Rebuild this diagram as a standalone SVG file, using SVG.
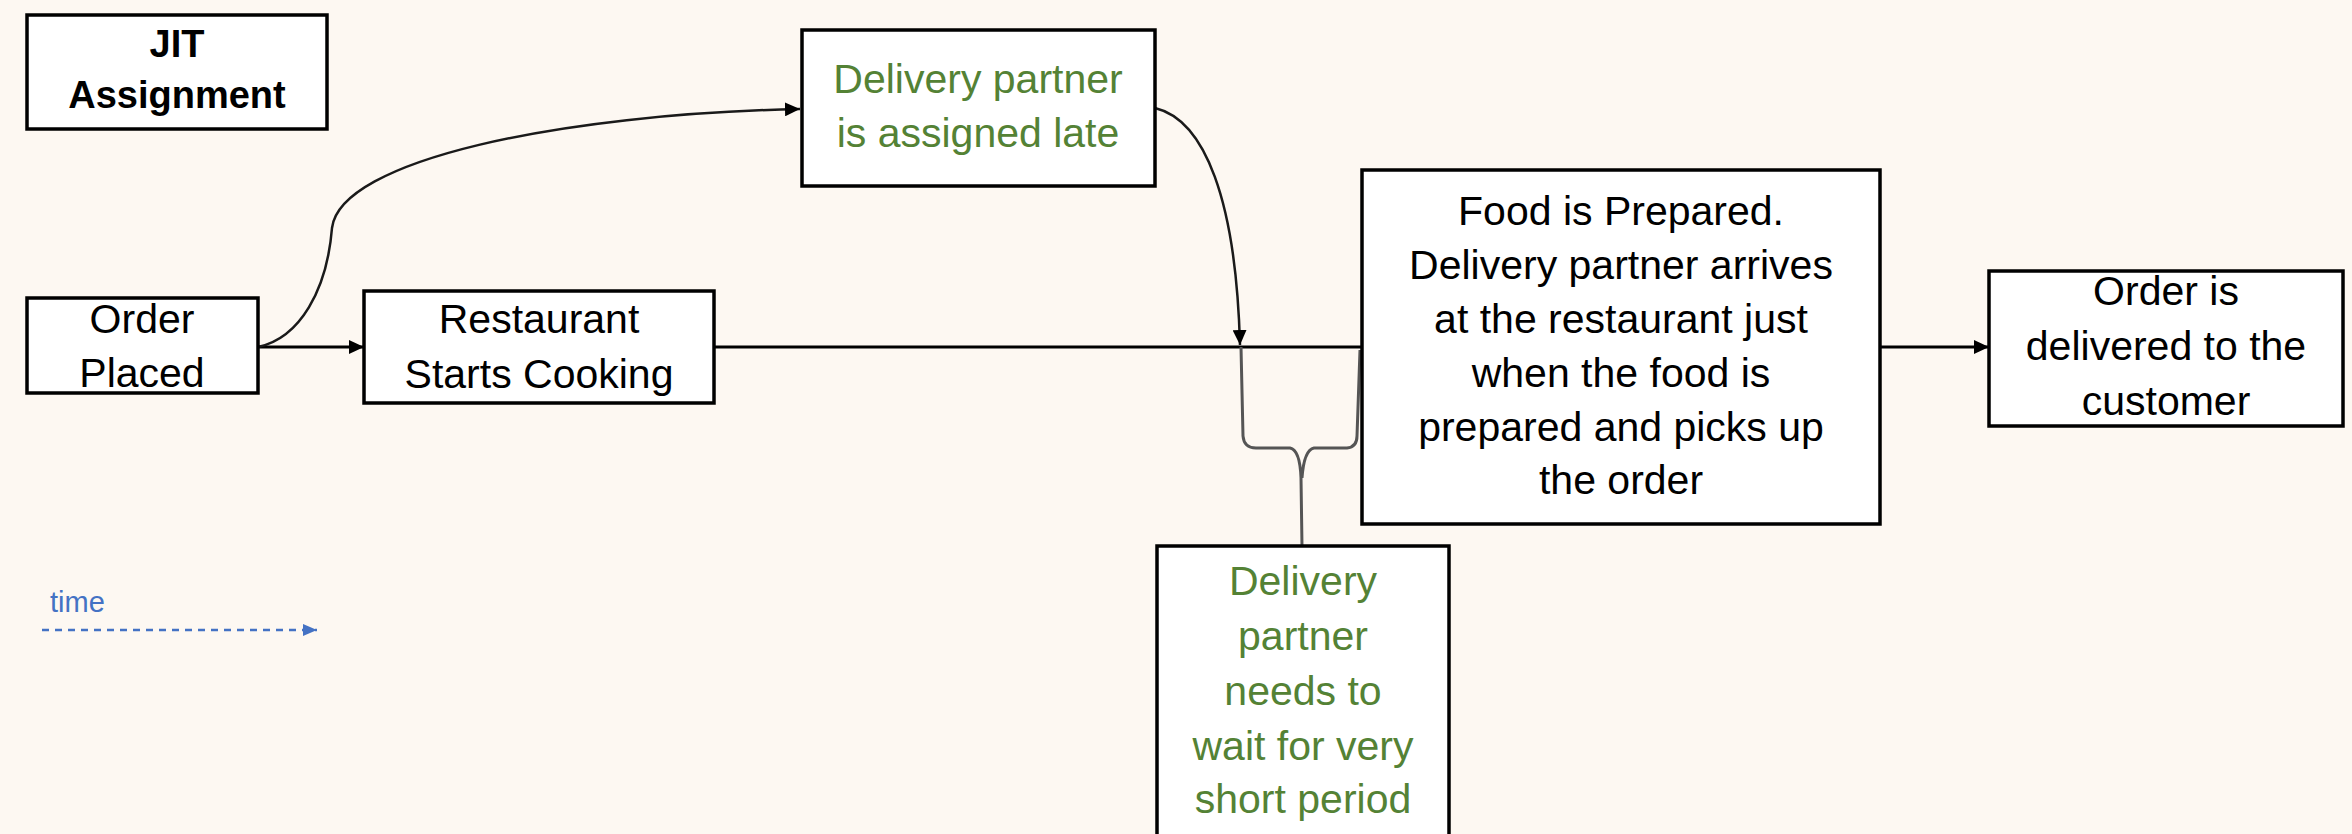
<svg xmlns="http://www.w3.org/2000/svg" width="2352" height="834" viewBox="0 0 2352 834">
<style>
.box{fill:#ffffff;stroke:#000000;stroke-width:3.5}
.t{font-family:"Liberation Sans",Arial,sans-serif;font-size:41px;fill:#000000;text-anchor:middle}
.g{fill:#548235}
.b{font-weight:bold;font-size:38px}
.ln{fill:none;stroke:#000000;stroke-width:3}
.cv{fill:none;stroke:#1a1a1a;stroke-width:2.5}
.br{fill:none;stroke:#555555;stroke-width:3}
</style>
<defs>
<marker id="arr" viewBox="0 0 15 14" refX="15" refY="7" markerWidth="15" markerHeight="14" orient="auto" markerUnits="userSpaceOnUse">
<path d="M0,0 L15,7 L0,14 z" fill="#000000"/>
</marker>
<marker id="arrb" viewBox="0 0 14 14" refX="14" refY="7" markerWidth="14" markerHeight="14" orient="auto" markerUnits="userSpaceOnUse">
<path d="M0,1 L14,7 L0,13 z" fill="#4472C4"/>
</marker>
</defs>
<rect x="0" y="0" width="2352" height="834" fill="#FDF8F2"/>

<g id="connectors">
<line class="ln" x1="258" y1="347" x2="364" y2="347" marker-end="url(#arr)"/>
<line class="ln" x1="714" y1="347" x2="1362" y2="347"/>
<line class="ln" x1="1880" y1="347" x2="1989" y2="347" marker-end="url(#arr)"/>
<path class="cv" d="M258,347 C300,338 327,290 332,228 C340,160 560,114 800,109" marker-end="url(#arr)"/>
<path class="cv" d="M1155,108 C1205,120 1236,200 1240,345" marker-end="url(#arr)"/>
<path class="br" d="M1241,347 L1243,436 Q1244,448 1256,448 L1290,448 Q1300,450 1301,478 L1302,546 M1302,478 Q1304,450 1314,448 L1347,448 Q1357,447 1357,436 L1360,350"/>
<line x1="42" y1="630" x2="317" y2="630" stroke="#4472C4" stroke-width="2.5" stroke-dasharray="7 6" marker-end="url(#arrb)"/>
</g>

<g id="node-title">
<rect class="box" x="27" y="15" width="300" height="114"/>
<text class="t b" x="177" y="57">JIT</text>
<text class="t b" x="177" y="108">Assignment</text>
</g>

<g id="node-order-placed">
<rect class="box" x="27" y="298" width="231" height="95"/>
<text class="t" x="142" y="333">Order</text>
<text class="t" x="142" y="387">Placed</text>
</g>

<g id="node-restaurant">
<rect class="box" x="364" y="291" width="350" height="112"/>
<text class="t" x="539" y="333">Restaurant</text>
<text class="t" x="539" y="388">Starts Cooking</text>
</g>

<g id="node-assigned-late">
<rect class="box" x="802" y="30" width="353" height="156"/>
<text class="t g" x="978" y="93">Delivery partner</text>
<text class="t g" x="978" y="147">is assigned late</text>
</g>

<g id="node-food-prepared">
<rect class="box" x="1362" y="170" width="518" height="354"/>
<text class="t" x="1621" y="225">Food is Prepared.</text>
<text class="t" x="1621" y="279">Delivery partner arrives</text>
<text class="t" x="1621" y="333">at the restaurant just</text>
<text class="t" x="1621" y="387">when the food is</text>
<text class="t" x="1621" y="441">prepared and picks up</text>
<text class="t" x="1621" y="494">the order</text>
</g>

<g id="node-delivered">
<rect class="box" x="1989" y="271" width="354" height="155"/>
<text class="t" x="2166" y="305">Order is</text>
<text class="t" x="2166" y="360">delivered to the</text>
<text class="t" x="2166" y="415">customer</text>
</g>

<g id="node-wait">
<rect class="box" x="1157" y="546" width="292" height="300"/>
<text class="t g" x="1303" y="595">Delivery</text>
<text class="t g" x="1303" y="650">partner</text>
<text class="t g" x="1303" y="705">needs to</text>
<text class="t g" x="1303" y="760">wait for very</text>
<text class="t g" x="1303" y="813">short period</text>
</g>

<g id="legend">
<text x="50" y="612" font-family="Liberation Sans,Arial,sans-serif" font-size="29" fill="#4472C4">time</text>
</g>
</svg>
